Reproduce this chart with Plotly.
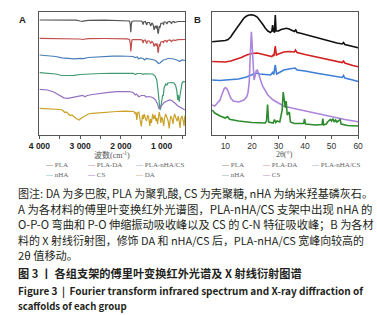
import plotly.graph_objects as go

# ---------------- Panel A : FTIR (wavenumber, relative transmittance with offsets)
ftir_names = ["PLA", "PLA-DA", "PLA-nHA/CS", "nHA", "CS", "DA"]

pla_wn = [4000, 3600, 3100, 3000, 2950, 2900, 2800, 2400, 2000, 1850, 1790, 1770, 1757, 1745, 1730, 1700,
          1600, 1500, 1470, 1455, 1440, 1400, 1383, 1365, 1350, 1300, 1268, 1240, 1210, 1185, 1170, 1150,
          1130, 1110, 1090, 1080, 1060, 1045, 1020, 960, 956, 940, 900, 870, 850, 800, 755, 740, 700, 680,
          600, 500, 420]
pla_t = [115, 115, 114.8, 114, 113.7, 114.2, 114.7, 114.8, 114.7, 114.5, 114, 111, 102.7, 110, 113.5, 114,
         114.2, 114, 113, 110.5, 113, 113.5, 111.5, 110, 112.5, 112.5, 109, 112, 110.5, 105, 108, 109,
         106.5, 109.5, 101.5, 102, 109, 107, 111.5, 112, 110, 113, 113, 111, 113, 113.5, 111.5, 113, 113.5, 112.5,
         113.5, 113.2, 113.5]

plada_wn = pla_wn
plada_t = [96.7, 96.7, 96.5, 96, 95.5, 96, 96.4, 96.5, 96.4, 96.2, 95.5, 92, 83.5, 91, 95, 95.5,
           95.5, 95.3, 94.5, 92, 94.5, 95, 93, 91.5, 94, 94, 91.5, 93.5, 92.5, 88.5, 90.5, 91,
           89, 91.5, 82.5, 83, 91, 88.5, 93, 93.5, 92, 94, 94.5, 93, 94.5, 95, 93.5, 94.5, 95, 94.5,
           95.3, 95.5, 95.5]

comp_wn = [4000, 3800, 3600, 3450, 3300, 3150, 3000, 2920, 2800, 2500, 2200, 2000, 1800, 1700, 1650, 1600,
           1560, 1520, 1460, 1420, 1380, 1320, 1250, 1180, 1120, 1080, 1040, 1000, 960, 900, 850, 800,
           700, 600, 560, 500, 420]
comp_t = [80, 79.5, 78.5, 77.2, 76.5, 76.2, 76.7, 76.4, 77.5, 78.5, 78.8, 79, 79, 78.5, 77.5, 78,
          76, 77.2, 76.5, 75, 76.5, 76.2, 76, 75, 73.5, 71.5, 72, 74, 75, 75.5, 76.5, 76.5,
          76, 74.5, 73.5, 75, 74.5]

nha_wn = [4000, 3800, 3600, 3450, 3300, 3150, 3000, 2800, 2500, 2200, 2000, 1800, 1700, 1640, 1600, 1500,
          1460, 1420, 1300, 1220, 1160, 1120, 1090, 1060, 1040, 1025, 1000, 975, 960, 940, 900, 870,
          850, 800, 750, 700, 660, 630, 605, 590, 570, 555, 530, 500, 470, 440, 420]
nha_t = [62.3, 62, 61, 59.5, 59.3, 59.7, 60.5, 61, 61.5, 61.7, 61.8, 62, 61.7, 60.5, 61.5, 61.5,
         60.7, 61.2, 61.5, 61, 59, 55, 45, 33, 25, 27, 36, 40, 39, 47, 51, 50,
         52, 52.5, 52.5, 52, 50, 45, 35, 40, 33.3, 38, 47, 52, 53.5, 53.3, 53]

cs_wn = [4000, 3800, 3650, 3500, 3400, 3300, 3200, 3100, 3000, 2940, 2880, 2830, 2700, 2500, 2300, 2100,
         1900, 1800, 1700, 1650, 1620, 1560, 1500, 1420, 1380, 1320, 1260, 1200, 1150, 1100, 1070, 1040,
         1020, 980, 950, 900, 850, 800, 750, 700, 650, 600, 550, 500, 450, 420]
cs_t = [45.7, 45, 43, 39.5, 37.2, 36.7, 37.5, 38.5, 39.2, 39.7, 38.2, 39.5, 40.5, 41.7, 42.7, 43.3,
        43.7, 43.5, 42.5, 40, 41, 38.3, 39.5, 39.5, 38, 38.5, 38, 37, 35, 31, 26.7, 27,
        28.3, 31, 32, 33.5, 34.5, 35, 34.5, 33, 31, 29, 27.5, 26.7, 25.5, 25]

da_wn = [4000, 3800, 3600, 3480, 3420, 3380, 3340, 3300, 3250, 3200, 3150, 3100, 3050, 3020, 2990, 2950,
         2900, 2850, 2800, 2700, 2500, 2300, 2100, 1900, 1750, 1680, 1650, 1630, 1610, 1590, 1560, 1530,
         1500, 1485, 1470, 1450, 1430, 1400, 1370, 1345, 1320, 1290, 1270, 1250, 1220, 1190, 1160, 1140,
         1120, 1100, 1080, 1060, 1040, 1020, 1000, 980, 950, 930, 900, 870, 840, 815, 800, 780,
         750, 720, 700, 680, 650, 620, 590, 560, 545, 530, 500, 470, 450, 435, 420]
da_t = [26.7, 26.5, 26, 25.5, 24.5, 22.5, 23, 21, 19.5, 20, 18, 16.5, 15.5, 15, 16.5, 17.5,
        18.5, 20, 21, 21.7, 22.5, 23, 23.5, 23.8, 24, 23.5, 21, 23, 15, 22, 23, 17,
        8.5, 14, 20, 16, 21, 17, 14, 20, 18, 9, 16, 12, 21, 16, 20, 14,
        17, 11, 19, 23, 19, 12, 18, 16, 9, 17, 21, 18, 14, 6.5, 15, 19,
        17, 11, 18, 21, 17, 14, 19, 8, 7, 16, 19, 14, 9, 17, 20]

# ---------------- Panel B : XRD (2theta, intensity with offsets)
xrd_names = ["PLA", "PLA-DA", "PLA-nHA/CS", "CS", "nHA"]

xpla_th = [5, 7, 9, 10, 11, 12, 13, 14, 15, 16, 17, 18, 19, 20, 21, 22, 23, 24, 25, 26, 27, 27.5, 27.8, 28.1,
           28.5, 28.8, 29.1, 30, 31, 32, 33, 34, 35, 36, 36.5, 37, 38, 40, 42, 44, 46, 48, 50, 52, 54, 54.5,
           55, 57, 59, 60]
xpla_i = [93.3, 93.5, 94, 94.5, 95.5, 98, 102, 106, 110, 114, 117, 119, 120, 120.2, 119.5, 118, 115, 111,
          107, 104, 102.5, 104, 110, 103.5, 103, 120, 104, 104, 105.5, 106.5, 106.7, 106, 105, 103.5, 105,
          102.5, 102, 100.5, 99, 97.5, 96, 94.5, 93, 92, 91, 92.5, 90.5, 89, 88, 87.3]

xplada_th = [5, 7, 10, 12, 14, 16, 18, 20, 22, 24, 26, 27.5, 28, 28.3, 28.8, 29.2, 30, 32, 34, 36, 36.4, 37,
             40, 45, 50, 54, 54.5, 55, 58, 60]
xplada_i = [73.5, 73, 73, 74, 75.5, 77.5, 80, 81.5, 82, 81, 79.5, 78.5, 80, 79, 89, 80, 81, 83, 83.5, 83, 85,
            82.5, 80.5, 77.5, 74.5, 72.5, 74, 72, 69.5, 68.3]

xcomp_th = [5, 8, 10, 13, 15, 18, 20, 21.5, 23, 25, 27, 27.8, 28.2, 28.8, 29.3, 30, 32, 34, 36.3, 37, 40, 45,
            50, 54, 54.5, 55, 58, 60]
xcomp_i = [55, 54.5, 55, 55.5, 56, 58, 60, 62, 61, 60.5, 60, 62.5, 60.5, 70, 61, 62, 65, 66, 67, 65, 64, 61.5,
           59, 57.5, 59.5, 57, 55, 53.5]

xcs_th = [5, 6, 7, 8, 8.5, 9, 9.5, 10, 10.5, 11, 11.5, 12, 13, 15, 17, 18, 18.5, 19, 19.3, 19.6, 19.8, 20.1,
          20.4, 20.8, 21.2, 21.6, 22, 22.5, 23, 24, 26, 28, 30, 32, 35, 40, 45, 50, 55, 60]
xcs_i = [30, 29, 32, 35, 39, 43, 46, 47.5, 46.5, 44, 40, 37, 34, 33, 35, 38, 42, 53, 75, 100, 103.3, 90,
         65, 55, 59, 64, 65, 62, 57, 49, 40, 35, 32, 29, 27, 24, 21, 18, 15.5, 13.3]

xnha_th = [5, 6, 8, 10, 10.8, 11.5, 12, 15, 20, 25, 25.5, 25.9, 26.3, 28, 28.5, 29, 29.5, 30.5, 31.4, 31.8,
           32.2, 32.6, 32.9, 33.3, 34.1, 34.5, 36, 39.5, 39.8, 40.2, 44, 46.4, 46.7, 47, 48, 48.5, 49.5, 50,
           50.5, 51, 51.5, 52, 52.5, 53.2, 53.6, 56, 60]
xnha_i = [25, 22, 19, 17, 18.5, 16, 15.5, 14, 12.5, 12, 14, 30.5, 13, 12, 15.5, 12.5, 14, 13, 25, 43,
          35, 27, 34, 20, 23, 13, 11.5, 11.5, 16, 11, 10, 10.5, 16.5, 10, 11, 13, 15.5, 14,
          16.5, 13, 15, 13, 14, 15.5, 11, 9.5, 9]

ftir_ticks = [4000, 3000, 2000, 1000]
ftir_ticktext = ["4 000", "3 000", "2 000", "1 000"]
ftir_minor = [3500, 2500, 1500, 500]
xrd_ticks = [10, 20, 30, 40, 50, 60]

ftir_colors = ["#555555", "#c0504d", "#4a7ebb", "#3f9a72", "#9370c0", "#c9a227"]
xrd_colors = ["#111111", "#d42020", "#3d7fd6", "#ad85dc", "#2e8b2e"]
legA_colors = ["#444444", "#a94444", "#5a7090", "#20a0a0", "#8020c0", "#b08a30"]
legB_colors = ["#444444", "#a94444", "#5a7090", "#3a8a6a", "#7a40b0"]

W, H = 377, 315
def px(x): return x / W
def py(y): return 1 - y / H

fig = go.Figure()
ftir_data = [(pla_wn, pla_t), (plada_wn, plada_t), (comp_wn, comp_t), (nha_wn, nha_t), (cs_wn, cs_t), (da_wn, da_t)]
for (xs, ys), name, c in zip(ftir_data, ftir_names, ftir_colors):
    fig.add_trace(go.Scatter(x=xs, y=ys, name=name, mode="lines", line=dict(color=c, width=1.2),
                             xaxis="x", yaxis="y", showlegend=False))
xrd_data = [(xpla_th, xpla_i), (xplada_th, xplada_i), (xcomp_th, xcomp_i), (xcs_th, xcs_i), (xnha_th, xnha_i)]
for (xs, ys), name, c in zip(xrd_data, xrd_names, xrd_colors):
    fig.add_trace(go.Scatter(x=xs, y=ys, name=name, mode="lines", line=dict(color=c, width=1.6),
                             xaxis="x2", yaxis="y2", showlegend=False))

axis_common = dict(showline=True, mirror=True, linecolor="#555555", linewidth=1, showgrid=False, zeroline=False)
fig.update_layout(
    width=W, height=H, margin=dict(l=0, r=0, t=0, b=0),
    paper_bgcolor="white", plot_bgcolor="white",
    xaxis=dict(domain=[px(29.7), px(182)], range=[4000, 420], tickmode="array", tickvals=ftir_ticks,
               ticktext=ftir_ticktext, ticks="outside", ticklen=3, tickcolor="#555555",
               minor=dict(tickmode="array", tickvals=ftir_minor, ticks="outside", ticklen=3, tickcolor="#555555"),
               tickfont=dict(family="Liberation Sans", size=8.5, color="#222222", weight="bold"),
               anchor="y", **axis_common),
    yaxis=dict(domain=[py(135), py(11.5)], range=[0, 123.5], showticklabels=False, ticks="",
               anchor="x", **axis_common),
    xaxis2=dict(domain=[px(210), px(362.5)], range=[5, 60], tickmode="array", tickvals=xrd_ticks,
                ticks="outside", ticklen=3, tickcolor="#555555",
                tickfont=dict(family="Liberation Sans", size=8.5, color="#333333"),
                anchor="y2", **axis_common),
    yaxis2=dict(domain=[py(135), py(11.5)], range=[0, 123.5], showticklabels=False, ticks="",
                anchor="x2", **axis_common),
)

ann = []
def add(text, x, y, size, family="Liberation Sans", color="#222222", xanchor="left", weight="normal"):
    ann.append(dict(text=text, x=px(x), y=py(y), xref="paper", yref="paper", xanchor=xanchor,
                    yanchor="middle", showarrow=False,
                    font=dict(family=family, size=size, color=color, weight=weight)))

add("A", 12, 19, 9.5, weight="bold", xanchor="center")
add("B", 195, 19, 9.5, weight="bold", xanchor="center")
add("波数(cm<sup>-1</sup>)", 105, 155, 8, family="Liberation Serif, Noto Sans CJK SC", color="#555555", xanchor="center")
add("2θ(°)", 286, 154, 8, family="Liberation Serif, Noto Sans CJK SC", color="#555555", xanchor="center")

legA_x = [33, 77, 127, 33, 77, 127]
legA_y = [164.5, 164.5, 164.5, 174.5, 174.5, 174.5]
for name, c, lx, ly in zip(ftir_names, legA_colors, legA_x, legA_y):
    add(f"<span style='color:{c}'>—</span> {name}", lx, ly, 7, family="Liberation Serif", color="#666666")
legB_x = [217, 260, 311, 217, 260]
legB_y = [164.5, 164.5, 164.5, 174.5, 174.5]
legB_names = ["PLA", "PLA-DA", "PLA-nHA/CS", "nHA", "CS"]
for name, c, lx, ly in zip(legB_names, legB_colors, legB_x, legB_y):
    add(f"<span style='color:{c}'>—</span> {name}", lx, ly, 7, family="Liberation Serif", color="#666666")

cap_font = "Noto Sans CJK SC"
caption = [
    ("图注: DA 为多巴胺, PLA 为聚乳酸, CS 为壳聚糖, nHA 为纳米羟基磷灰石。", 193, 11.05, "normal"),
    ("A 为各材料的傅里叶变换红外光谱图，PLA-nHA/CS 支架中出现 nHA 的", 208.5, 11.4, "normal"),
    ("O-P-O 弯曲和 P-O 伸缩振动吸收峰以及 CS 的 C-N 特征吸收峰；B 为各材", 224, 11.2, "normal"),
    ("料的 X 射线衍射图，修饰 DA 和 nHA/CS 后，PLA-nHA/CS 宽峰向较高的", 239.5, 10.95, "normal"),
    ("2θ 值移动。", 255, 11.2, "normal"),
    ("图 3 丨 各组支架的傅里叶变换红外光谱及 X 射线衍射图谱", 273, 11.2, "bold"),
    ("Figure 3  |  Fourier transform infrared spectrum and X-ray diffraction of", 290, 10.0, "bold"),
    ("scaffolds of each group", 306, 9.6, "bold"),
]
for text, y, size, wt in caption:
    add(text, 5, y, size, family=cap_font, color="#231f20", weight=wt)

fig.update_layout(annotations=ann)
fig.write_html("out.html", config={"displayModeBar": False},
               post_script="document.body.style.margin='0px';")
